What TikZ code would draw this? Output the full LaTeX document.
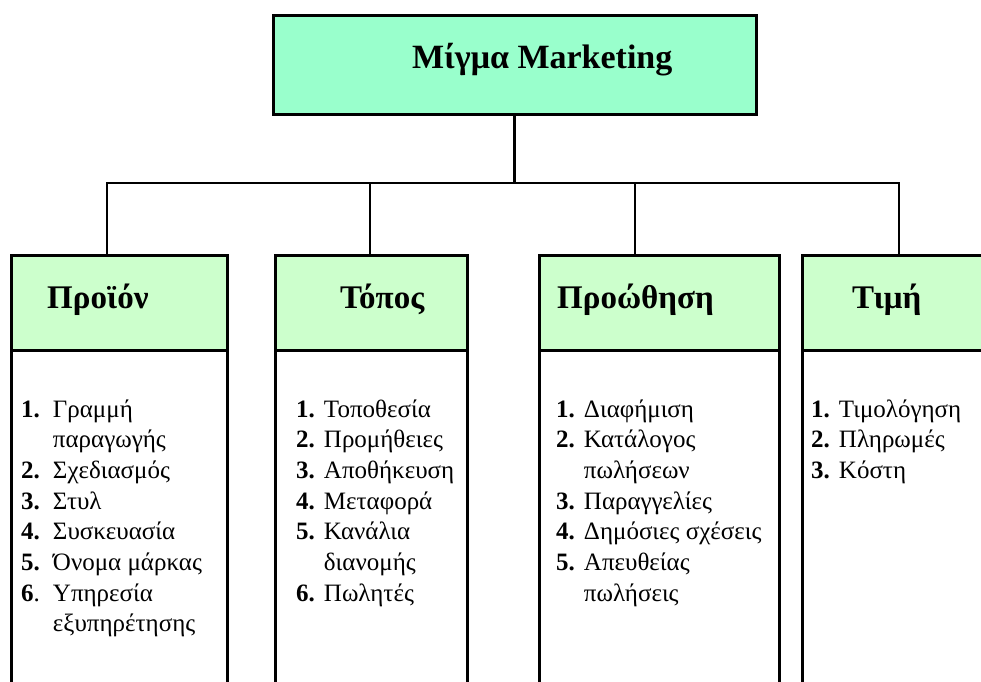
\documentclass[tikz,border=0pt]{standalone}
\usepackage{fontspec}
\setmainfont{Liberation Serif}
\definecolor{topgreen}{HTML}{99FFCC}
\definecolor{headgreen}{HTML}{CCFFCC}
\begin{document}
\begin{tikzpicture}[x=1pt,y=-1pt,
  boxline/.style={draw=black,line width=3pt},
  conn/.style={draw=black,line width=2.8pt},
  topbox/.style={boxline,fill=topgreen,minimum width=483pt,minimum height=99pt,inner sep=0pt,outer sep=0pt},
  headbox/.style={boxline,fill=headgreen,minimum height=95pt,inner sep=0pt,outer sep=0pt},
  bodybox/.style={boxline,fill=white,minimum height=360pt,inner sep=0pt,outer sep=0pt,anchor=north},
  bigtext/.style={font=\fontsize{33}{38}\selectfont\bfseries,inner sep=0pt,anchor=base west},
  listtext/.style={font=\fontsize{25}{30.7}\selectfont,inner sep=0pt,anchor=base west}]
\useasboundingbox (0,0) rectangle (981,681);
\clip (0,0) rectangle (981,681);
% top box
\node[topbox] (top) at (514.5,64.5) {};
\node[bigtext,font=\fontsize{34}{38}\selectfont\bfseries] (toplabel) at (412,68) {Μίγμα Marketing};
% header boxes
\node[headbox,minimum width=216pt] (h1) at (119,302.5) {};
\node[headbox,minimum width=192pt] (h2) at (371,302.5) {};
\node[headbox,minimum width=240pt] (h3) at (659,302.5) {};
\node[headbox,minimum width=220pt] (h4) at (912,302.5) {};
% body boxes
\node[bodybox,minimum width=216pt] (b1) at (h1.south) {};
\node[bodybox,minimum width=192pt] (b2) at (h2.south) {};
\node[bodybox,minimum width=240pt] (b3) at (h3.south) {};
\node[bodybox,minimum width=220pt] (b4) at (h4.south) {};
% header labels
\node[bigtext] (l1) at (47,308) {Προϊόν};
\node[bigtext] (l2) at (340,308) {Τόπος};
\node[bigtext] (l3) at (557,308) {Προώθηση};
\node[bigtext] (l4) at (852,308) {Τιμή};
% connectors
\coordinate (d1) at (107,183);
\coordinate (d2) at (370,183);
\coordinate (d3) at (635,183);
\coordinate (d4) at (899,183);
\draw[conn] (top.south) -- (top.south |- d1);
\draw[conn,line join=miter] (d1 |- h1.north) -- (d1) -- (d4) -- (d4 |- h4.north);
\draw[conn] (d2) -- (d2 |- h2.north);
\draw[conn] (d3) -- (d3 |- h3.north);
% lists
\node[listtext] (t1) at (21,417) {\begin{tabular}[t]{@{}r@{\hspace{13pt}}l@{}}
\textbf{1.} & Γραμμή\\
 & παραγωγής\\
\textbf{2.} & Σχεδιασμός\\
\textbf{3.} & Στυλ\\
\textbf{4.} & Συσκευασία\\
\textbf{5.} & Όνομα μάρκας\\
\textbf{6}. & Υπηρεσία\\
 & εξυπηρέτησης
\end{tabular}};
\node[listtext] (t2) at (296,417) {\begin{tabular}[t]{@{}r@{\hspace{9pt}}l@{}}
\textbf{1.} & Τοποθεσία\\
\textbf{2.} & Προμήθειες\\
\textbf{3.} & Αποθήκευση\\
\textbf{4.} & Μεταφορά\\
\textbf{5.} & Κανάλια\\
 & διανομής\\
\textbf{6.} & Πωλητές
\end{tabular}};
\node[listtext] (t3) at (556,417) {\begin{tabular}[t]{@{}r@{\hspace{9pt}}l@{}}
\textbf{1.} & Διαφήμιση\\
\textbf{2.} & Κατάλογος\\
 & πωλήσεων\\
\textbf{3.} & Παραγγελίες\\
\textbf{4.} & Δημόσιες σχέσεις\\
\textbf{5.} & Απευθείας\\
 & πωλήσεις
\end{tabular}};
\node[listtext] (t4) at (811,417) {\begin{tabular}[t]{@{}r@{\hspace{9pt}}l@{}}
\textbf{1.} & Τιμολόγηση\\
\textbf{2.} & Πληρωμές\\
\textbf{3.} & Κόστη
\end{tabular}};
\end{tikzpicture}
\end{document}
